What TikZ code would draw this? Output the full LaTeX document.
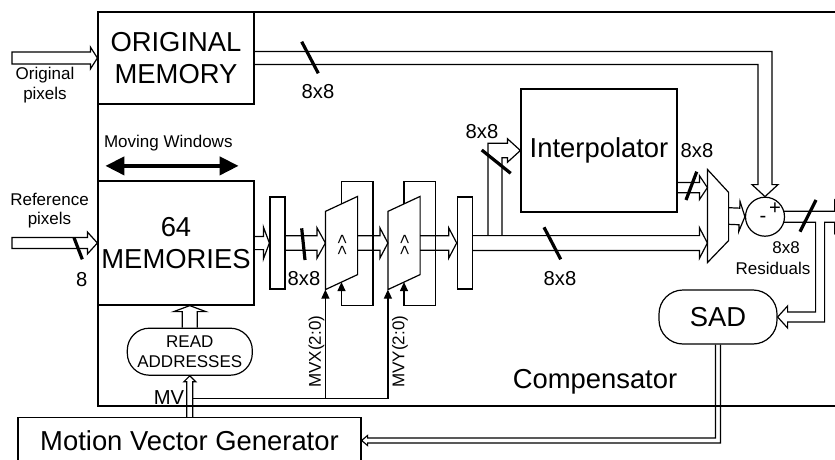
\documentclass[tikz,border=0pt]{standalone}
\usepackage{fontspec}
\setmainfont{Liberation Sans}
\usetikzlibrary{arrows.meta,calc}
\newcommand{\bigtxt}{\fontsize{13.7}{15.8}\selectfont}
\newcommand{\midtxt}{\fontsize{10.1}{12}\selectfont}
\newcommand{\smalltxt}{\fontsize{8.5}{9.9}\selectfont}
% hollow bus arrow: shaft half width / head half width / head length
\def\bsw{3.6pt}\def\bhw{7.6pt}\def\bhl{4pt}
\newcommand{\busshape}{let \p1=(\tikztostart), \p2=(\tikztotarget), \p3=($(\p2)!\bhl!(\p1)$) in
  ($(\p1)!\bsw!90:(\p2)$) -- ($(\p3)!\bsw!90:(\p2)$) -- ($(\p3)!\bhw!90:(\p2)$) -- (\p2)
  -- ($(\p3)!\bhw!-90:(\p2)$) -- ($(\p3)!\bsw!-90:(\p2)$) -- ($(\p1)!\bsw!-90:(\p2)$)}
\tikzset{
  bus/.style={to path={\busshape}},
  busc/.style={to path={\busshape -- cycle}},
  bussize/.code args={#1/#2/#3}{\def\bsw{#1}\def\bhw{#2}\def\bhl{#3}},
  block/.style={draw, rectangle, inner sep=0pt, align=center},
  reg/.style={draw, rectangle, inner sep=0pt, minimum width=7.5pt, minimum height=46pt},
  shifter/.style={rectangle, inner sep=0pt, minimum width=15.5pt, minimum height=46pt},
  ctl/.style={-{Triangle[length=4.5pt,width=4pt]}},
  busmark/.style={line width=1.6pt},
  mwarrow/.style={line width=2pt, {Triangle[length=9.5pt,width=9pt]}-{Triangle[length=9.5pt,width=9pt]}},
  lbl/.style={font=\midtxt, inner sep=0pt},
  note/.style={font=\smalltxt, inner sep=0pt, align=center},
}

\begin{document}
\begin{tikzpicture}[x=0.5pt, y=-0.5pt, line width=0.6pt, font=\bigtxt]
    \useasboundingbox (0,0) rectangle (835,460);
    \clip (0,0) rectangle (835,460);

    % Compensator frame
    \draw (835,12) -| (98,406) -- (835,406);
    \node (complbl) at (595,381.7) {Compensator};

    % memories
    \node[block, minimum width=78pt, minimum height=46pt] (origmem) at (176,58) {ORIGINAL\\MEMORY};
    \node[block, minimum width=78pt, minimum height=62pt] (mem64) at (176,243) {64\\MEMORIES};
    \node[note] (mwtxt) at (168.3,142.7) {Moving Windows};
    \draw[mwarrow] ($(mem64.north west)+(8,-14.5)$) -- ($(mem64.north east)+(-16,-14.5)$);

    % inputs
    \coordinate (origpix) at (12,58);
    \coordinate (refpix) at (12,243);
    \node[note] (origtxt) at (45,85) {Original\\pixels};
    \node[note] (reftxt) at (49.5,210.7) {Reference\\pixels};
    \draw[busc, bussize=3pt/5.5pt/3.5pt] (origpix) to (origmem.west);
    \draw[busc, bussize=2.75pt/5.5pt/5pt] (refpix) to (mem64.west);

    % registers and shifters
    \node[reg] (reg1) at (277.5,243) {};
    \node[shifter] (sh1) at (341.5,243) {};
    \node[shifter] (sh2) at (404,243) {};
    \node[reg] (reg2) at (464.8,243) {};
    \draw (sh1.north east) -- ($(sh1.south east)+(0,-15)$) -- (sh1.south west) -- ($(sh1.north west)+(0,15)$) -- cycle;
    \draw (sh2.north east) -- ($(sh2.south east)+(0,-15)$) -- (sh2.south west) -- ($(sh2.north west)+(0,15)$) -- cycle;
    \node[note, rotate=-90] (sh1op) at (341.5,245) {<\kern0.5pt<};
    \node[note, rotate=-90] (sh2op) at (404,245) {<\kern0.5pt<};
    \draw[ctl] ($(sh1.north)+(0,7.5)$) |- ++(31.5,-22.5) |- ++(-31.5,124) -- ($(sh1.south)+(0,-7.5)$);
    \draw[ctl] ($(sh2.north)+(0,7.5)$) |- ++(31.5,-22.5) |- ++(-31.5,124) -- ($(sh2.south)+(0,-7.5)$);

    % pipeline buses
    \draw[bus, bussize=3.3pt/8pt/3pt] (mem64.east) to (reg1.west);
    \draw[bus, bussize=3.6pt/7.6pt/4.2pt] (reg1.east) to (sh1.west);
    \draw[bus, bussize=3.6pt/7.6pt/4pt] (sh1.east) to (sh2.west);
    \draw[bus, bussize=3.6pt/7.6pt/4pt] (sh2.east) to (reg2.west);

    % interpolator, mux, subtractor
    \node[block, minimum width=78pt, minimum height=61.5pt] (interp) at (599,150.5) {Interpolator};
    \node[rectangle, inner sep=0pt, minimum width=10pt, minimum height=46pt] (mux) at (718,216) {};
    \draw (mux.north west) -- ($(mux.north east)+(0,23)$) -- ($(mux.south east)+(0,-22)$) -- (mux.south west) -- cycle;
    \node[draw, circle, inner sep=0pt, minimum size=19.5pt] (adder) at (765,216.7) {};
    \node[lbl] (minus) at (763,219) {-};
    \node[lbl] (plus) at (775,208.5) {+};

    \draw[bus, bussize=3.7pt/7.7pt/4pt] (reg2.east) to (reg2.east -| mux.west);
    \coordinate (iout) at ($(interp.south east)+(0,-25)$);
    \draw[bus, bussize=2.6pt/6pt/4pt] (iout) to (iout -| mux.west);
    \draw[bus, bussize=4.15pt/7.5pt/2.75pt] (mux.east) to (adder.west);

    % branch into interpolator
    \coordinate (ibr) at ($(reg2.east)+(22,-7.5)$);
    \draw ($(ibr)+(-7,0)$) |- ($(interp.west)+(-13,-7.2)$) -- ++(0,-4.6) -- (interp.west)
          -- ($(interp.west)+(-13,11.8)$) -- ++(0,-4.6) -| ($(ibr)+(7,0)$);

    % original block down to subtractor
    \draw ($(origmem.east)+(0,-6.5)$) -| ($(adder.north)+(7,-12)$) -- ++(6,0) -- (adder.north)
          -- ($(adder.north)+(-13,-12)$) -- ++(6,0) |- ($(origmem.east)+(0,6.5)$);

    % SAD and residual output
    \node[block, rounded corners=12pt, minimum width=59pt, minimum height=27pt] (sad) at (718,317) {SAD};
    \coordinate (rbr) at ($(adder.east)+(35,5.5)$);
    \draw ($(adder.east)+(-0.9,-5.5)$) -- ++(50.4,0) -- ++(0,-11.2) -- ++(16,16.7) -- ++(-16,16.7)
          -- ++(0,-11.2) -- ($(rbr)+(4.5,0)$) |- ($(sad.east)+(10,5)$) -- ++(0,6) -- (sad.east)
          -- ($(sad.east)+(10,-11)$) -- ++(0,6) -| ($(rbr)+(-4.5,0)$) -- ($(adder.east)+(-0.9,5.5)$);
    \node[note] (restxt) at (786,248) {8x8};
    \node[note] (resname) at (773,268.5) {Residuals};

    % motion vectors
    \node[block, rounded corners=11pt, minimum width=62.5pt, minimum height=23.5pt, font=\smalltxt] (rdaddr) at (189.8,351.7) {READ\\ADDRESSES};
    \node[block, minimum width=171.5pt, minimum height=22.8pt] (mvg) at (189.5,440.5) {Motion Vector Generator};
    \draw[bus, bussize=3.75pt/8pt/3pt] (rdaddr.north) to (rdaddr.north |- mem64.south);
    \draw[bus, bussize=1.5pt/3pt/3pt] (mvg.north -| rdaddr.south) to (rdaddr.south);
    \draw ($(sad.south)+(2.5,0)$) |- ($(mvg.east)+(6,2.5)$) -- ++(0,2.5) -- (mvg.east)
          -- ($(mvg.east)+(6,-5)$) -- ++(0,2.5) -| ($(sad.south)+(-2.5,0)$);
    \coordinate (mv) at ($(rdaddr.south)+(3,22.8)$);
    \draw[ctl] (mv) -| (sh1.south west);
    \draw[ctl] (mv) -| (sh2.south west);
    \node[lbl] (mvtxt) at (169,397.5) {MV};
    \node[note, rotate=90] (mvx) at (316.5,351.7) {MVX(2:0)};
    \node[note, rotate=90] (mvy) at (400,351.7) {MVY(2:0)};

    % bus widths
    \draw[busmark] (301.7,41.7) -- (318.3,73.3);
    \node[lbl] (w1) at (318,92) {8x8};
    \draw[busmark] (74,237.7) -- (82.3,259.3);
    \node[lbl] (w2) at (81.7,280) {8};
    \draw[busmark] (301.7,228.3) -- (305,260);
    \node[lbl] (w3) at (304,279) {8x8};
    \draw[busmark] (481.7,150) -- (510.7,173.3);
    \node[lbl] (w4) at (482,131.5) {8x8};
    \draw[busmark] (686,200) -- (696.7,171.7);
    \node[lbl] (w5) at (697,150.7) {8x8};
    \draw[busmark] (544,227.3) -- (560.7,259.3);
    \node[lbl] (w6) at (560,278.5) {8x8};
    \draw[busmark] (800,231.7) -- (816,200);
\end{tikzpicture}
\end{document}
